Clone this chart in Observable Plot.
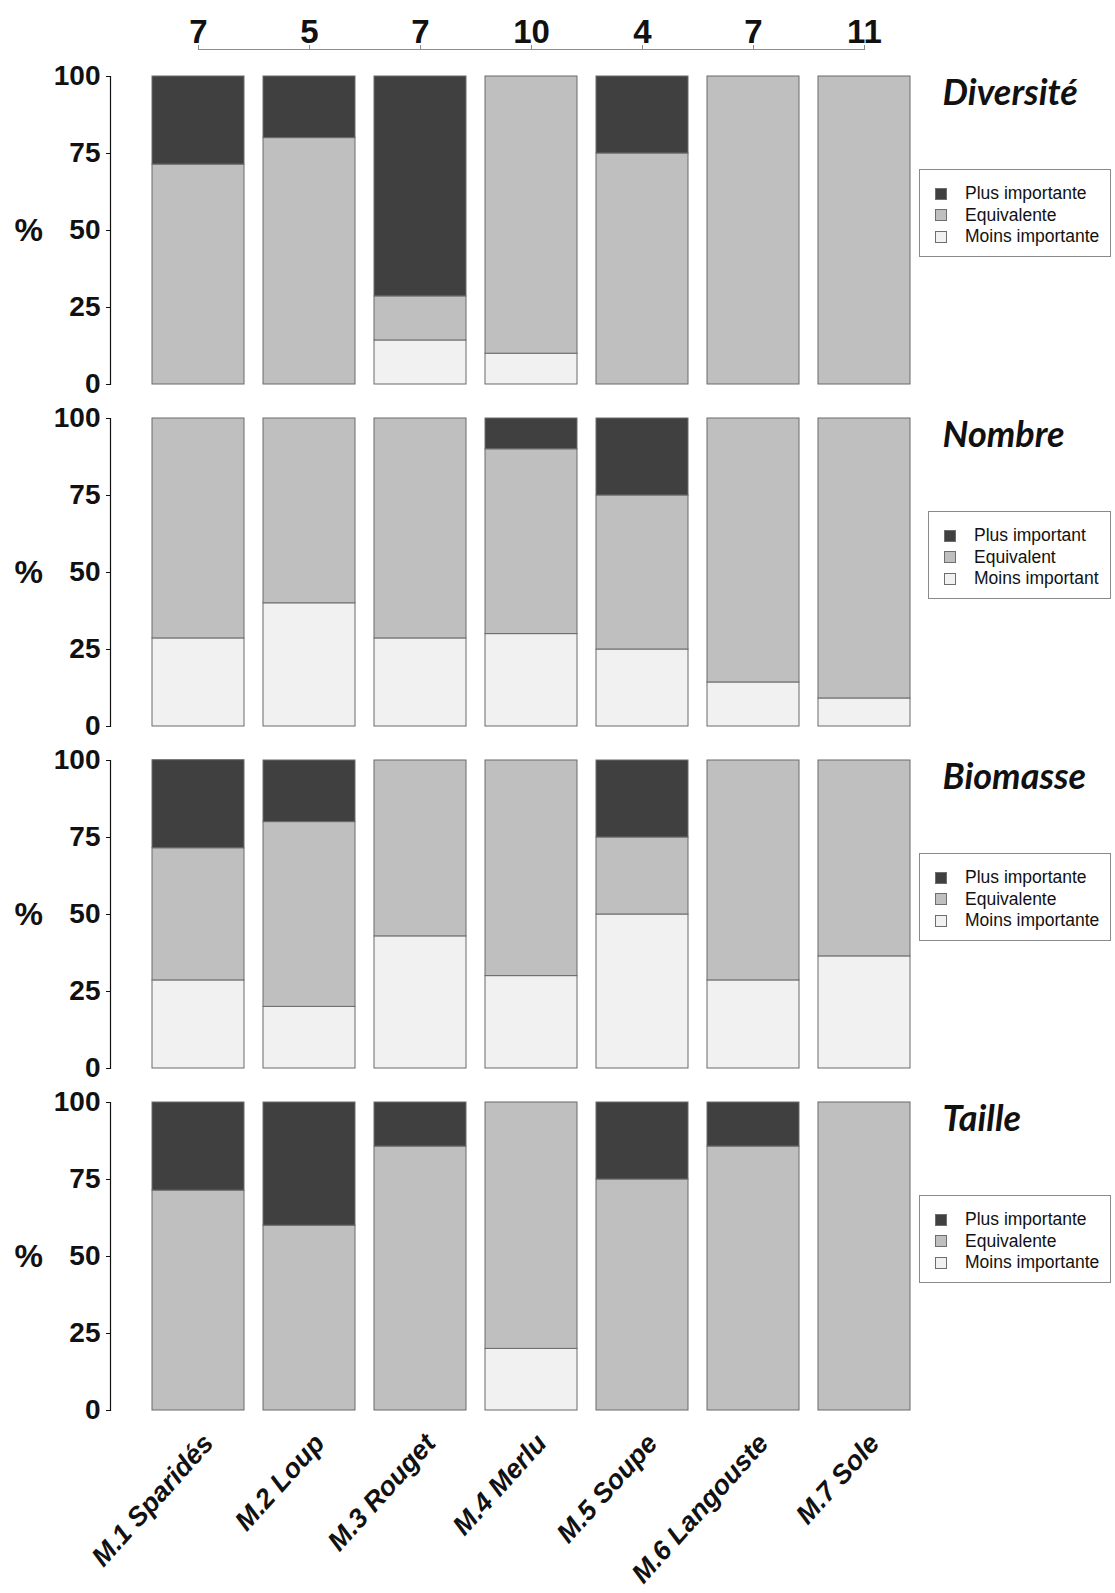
<!DOCTYPE html>
<html><head><meta charset="utf-8">
<script src="https://cdn.jsdelivr.net/npm/d3@7"></script>
<script src="https://cdn.jsdelivr.net/npm/@observablehq/plot@0.6"></script>
<style>
body{margin:0;background:#fff;}
#wrap{position:relative;width:1115px;height:1593px;overflow:hidden;}
#wrap svg{position:absolute;left:0;top:0;}
.legend{position:absolute;border:1px solid #8a8a8a;background:#fff;font-family:"Liberation Sans",Arial,sans-serif;font-size:17.5px;color:#111;box-sizing:border-box;}
.legend .row{position:absolute;height:20px;display:flex;align-items:center;white-space:nowrap;}
.legend .sw{width:12px;height:12px;border:1px solid #6e6e6e;box-sizing:border-box;flex:none;}
</style></head><body><div id="wrap"></div>
<script>
// ---- data ----
const categories = ["M.1 Sparidés","M.2 Loup","M.3 Rouget","M.4 Merlu","M.5 Soupe","M.6 Langouste","M.7 Sole"];
const counts = [7,5,7,10,4,7,11];
const panels = ["Diversité","Nombre","Biomasse","Taille"];
const levels = ["Moins","Equivalent","Plus"]; // stacked bottom -> top

const diversiteMoins = [0, 0, 14.3, 10, 0, 0, 0];
const diversiteEquiv = [71.4, 80, 14.3, 90, 75, 100, 100];
const diversitePlus  = [28.6, 20, 71.4, 0, 25, 0, 0];

const nombreMoins = [28.6, 40, 28.6, 30, 25, 14.3, 9.1];
const nombreEquiv = [71.4, 60, 71.4, 60, 50, 85.7, 90.9];
const nombrePlus  = [0, 0, 0, 10, 25, 0, 0];

const biomasseMoins = [28.6, 20, 42.9, 30, 50, 28.6, 36.4];
const biomasseEquiv = [42.9, 60, 57.1, 70, 25, 71.4, 63.6];
const biomassePlus  = [28.6, 20, 0, 0, 25, 0, 0];

const tailleMoins = [0, 0, 0, 20, 0, 0, 0];
const tailleEquiv = [71.4, 60, 85.7, 80, 75, 85.7, 100];
const taillePlus  = [28.6, 40, 14.3, 0, 25, 14.3, 0];

const legendFem  = ["Plus importante","Equivalente","Moins importante"];
const legendMasc = ["Plus important","Equivalent","Moins important"];
const panelLegends = [legendFem, legendMasc, legendFem, legendFem];

const levelColors = ["#f1f1f1","#bfbfbf","#404040"];

// ---- table ----
const panelSeries = [
  [diversiteMoins, diversiteEquiv, diversitePlus],
  [nombreMoins, nombreEquiv, nombrePlus],
  [biomasseMoins, biomasseEquiv, biomassePlus],
  [tailleMoins, tailleEquiv, taillePlus]
];
const rows = [];
panels.forEach((panel, p) => {
  categories.forEach((cat, i) => {
    levels.forEach((level, l) => {
      const v = panelSeries[p][l][i];
      if (v > 0) rows.push({panel, cat, level, value: v});
    });
  });
});

const W = 1115, H = 1593;
const FONT = "'Liberation Sans', Arial, sans-serif";

const main = Plot.plot({
  width: W, height: H,
  marginLeft: 110, marginRight: 200.4, marginTop: 76.2, marginBottom: 182.4,
  style: {fontFamily: FONT, background: "transparent", color: "#111"},
  x: {domain: categories, insetLeft: 42, paddingInner: 0.173, paddingOuter: 0, align: 0},
  y: {domain: [0, 100]},
  fy: {domain: panels, paddingInner: 0.1, paddingOuter: 0, axis: null},
  color: {domain: levels, range: levelColors},
  marks: [
    Plot.barY(rows, {x: "cat", y: "value", fy: "panel", fill: "level", order: levels, stroke: "#6b6b6b", strokeWidth: 1}),
    Plot.frame({anchor: "left", stroke: "#111", strokeWidth: 1.2}),
    Plot.axisY({ticks: [0, 25, 50, 75, 100], tickSize: 4, tickPadding: 6, fontSize: 28, fontWeight: "bold", label: null, stroke: "#111"}),
    Plot.axisX({anchor: "bottom", tickSize: 0, tickRotate: -48, tickPadding: 28, dx: 10, fontSize: 27, fontWeight: "bold", fontStyle: "italic", label: null}),
    Plot.text(panels, {fy: d => d, text: () => "%", frameAnchor: "left", dx: -96, fontSize: 32, fontWeight: "bold"}),
    Plot.text(panels, {fy: d => d, text: d => d, frameAnchor: "top-right", textAnchor: "start", lineAnchor: "middle", dx: 27.5, dy: 17, fontSize: 36, fontWeight: "bold", fontStyle: "italic", fontFamily: "Lato"})
  ]
});

const xs = main.scale("x");
const bw = xs.bandwidth;
const firstC = xs.apply(categories[0]) + bw / 2;
const lastC = xs.apply(categories[categories.length - 1]) + bw / 2;

const topAxis = Plot.plot({
  width: W, height: 60,
  marginLeft: firstC, marginRight: W - lastC, marginTop: 49, marginBottom: 10,
  style: {fontFamily: FONT, background: "transparent", color: "#111"},
  x: {type: "point", domain: categories, padding: 0},
  marks: [
    Plot.frame({anchor: "top", stroke: "#8c8c8c", strokeWidth: 1.2}),
    Plot.axisX({anchor: "top", tickSize: 5, tickPadding: 2, fontSize: 33, fontWeight: "bold", stroke: "#8c8c8c", fill: "#111", label: null,
      tickFormat: d => String(counts[categories.indexOf(d)])})
  ]
});

const wrap = document.getElementById("wrap");
wrap.appendChild(main);
wrap.appendChild(topAxis);

// legends
const fys = main.scale("fy");
const legendColors = [levelColors[2], levelColors[1], levelColors[0]];
panels.forEach((panel, p) => {
  const labels = panelLegends[p];
  const fem = labels === legendFem;
  const top = fys.apply(panel) + 92.5;
  const left = fem ? 919 : 928;
  const box = document.createElement("div");
  box.className = "legend";
  box.style.left = left + "px";
  box.style.top = top + "px";
  box.style.width = (1111 - left) + "px";
  box.style.height = "88px";
  labels.forEach((lab, i) => {
    const r = document.createElement("div");
    r.className = "row";
    r.style.left = "15px";
    r.style.top = (14 + i * 21.5) + "px";
    const sw = document.createElement("div");
    sw.className = "sw";
    sw.style.background = legendColors[i];
    const t = document.createElement("span");
    t.textContent = lab;
    t.style.marginLeft = "18px";
    r.appendChild(sw); r.appendChild(t);
    box.appendChild(r);
  });
  wrap.appendChild(box);
});
</script></body></html>
